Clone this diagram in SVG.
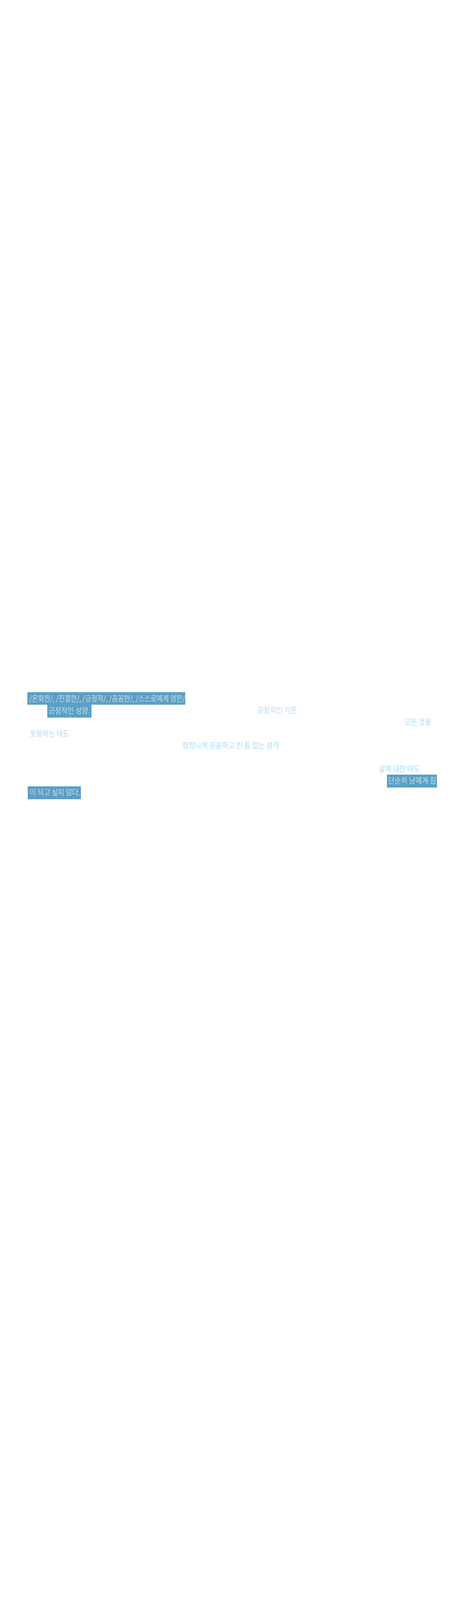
<svg xmlns="http://www.w3.org/2000/svg" width="1200" height="4500" viewBox="0 0 1200 4500">
<style>
  .bg { fill: #ffffff; }
  .hl { fill: #5B9FC5; }
  .t { font-family: "Noto Sans CJK KR", "Noto Sans", "Liberation Sans", sans-serif; font-size: 20px; font-weight: 300; }
  .tw { fill: #F2F6FA; }
  .tb { fill: #87CEFA; }
</style>
<rect class="bg" x="0" y="0" width="1200" height="4500"/>
<g id="traits">
  <rect class="hl" x="70" y="1772" width="404" height="32"/>
  <text class="t tw" x="75" y="1796" textLength="398" lengthAdjust="spacingAndGlyphs">/온화한/, /친절한/, /긍정적/, /꼼꼼한/, /스스로에게 엄한/</text>
</g>
<g id="positive-tendency">
  <rect class="hl" x="121" y="1804" width="113" height="33"/>
  <text class="t tw" x="124" y="1827" textLength="106" lengthAdjust="spacingAndGlyphs">긍정적인 성향.</text>
</g>
<g id="positive-energy">
  <text class="t tb" x="658" y="1826" textLength="101" lengthAdjust="spacingAndGlyphs">긍정적인 기운</text>
</g>
<g id="everything">
  <text class="t tb" x="1035" y="1856" textLength="68" lengthAdjust="spacingAndGlyphs">모든 것을</text>
</g>
<g id="embracing">
  <text class="t tb" x="76" y="1886" textLength="101" lengthAdjust="spacingAndGlyphs">포용하는 태도</text>
</g>
<g id="meticulous">
  <text class="t tb" x="466" y="1916" textLength="248" lengthAdjust="spacingAndGlyphs">엄청나게 꼼꼼하고 빈 틈 없는 성격</text>
</g>
<g id="attitude-to-life">
  <text class="t tb" x="969" y="1976" textLength="105" lengthAdjust="spacingAndGlyphs">삶에 대한 태도</text>
</g>
<g id="burden">
  <rect class="hl" x="990" y="1983" width="128" height="33"/>
  <text class="t tw" x="993" y="2006" textLength="123" lengthAdjust="spacingAndGlyphs">단순히 남에게 짐</text>
</g>
<g id="not-want">
  <rect class="hl" x="71" y="2013" width="136" height="33"/>
  <text class="t tw" x="76" y="2036" textLength="129" lengthAdjust="spacingAndGlyphs">이 되고 싶지 않다.</text>
</g>
</svg>
